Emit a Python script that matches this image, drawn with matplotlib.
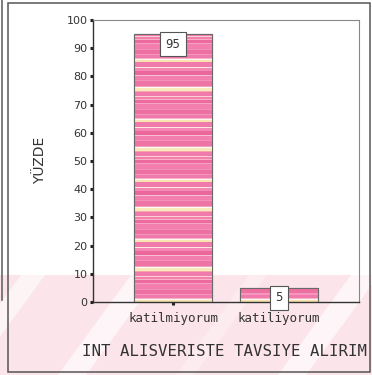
import numpy as np
import matplotlib
matplotlib.use("Agg")
import matplotlib.pyplot as plt
from matplotlib.patches import Rectangle, Polygon
from matplotlib.colors import to_rgb

categories = ["katilmiyorum", "katiliyorum"]
values = [95, 5]
value_labels = ["95", "5"]
y_ticks = [0, 10, 20, 30, 40, 50, 60, 70, 80, 90, 100]
y_label = "YÜZDE"
x_label = "INT ALISVERISTE TAVSIYE ALIRIM"

W, H = 372, 375
fig = plt.figure(figsize=(W / 100, H / 100), dpi=100)
fig.patch.set_facecolor("white")

def fx(px):
    return px / W

def fy(py):
    return 1 - py / H

# pale pink band with soft diagonal light streaks across the lower part of the page
band_top = 275
fig.patches.append(Rectangle((0, 0), 1, fy(band_top), transform=fig.transFigure,
                             facecolor="#fbe4ea", edgecolor="none", zorder=0))
slope = 0.73
for x0, w, a in [(-40, 24, 0.6), (72, 28, 0.65), (185, 18, 0.3), (292, 28, 0.65)]:
    dx = slope * (H - band_top)
    pts = [(fx(x0 - w / 2), fy(H)), (fx(x0 + w / 2), fy(H)),
           (fx(x0 + w / 2 + dx), fy(band_top)), (fx(x0 - w / 2 + dx), fy(band_top))]
    fig.patches.append(Polygon(pts, closed=True, transform=fig.transFigure,
                               facecolor="white", alpha=a, edgecolor="none", zorder=0))

# page frame
fig.patches.append(Rectangle((fx(8), fy(372)), fx(370) - fx(8), fy(3) - fy(372),
                             transform=fig.transFigure, facecolor="none",
                             edgecolor="#555555", linewidth=1.1, zorder=1))
fig.lines.append(plt.Line2D([fx(1.5), fx(1.5)], [fy(0), fy(300)], transform=fig.transFigure,
                            color="#666666", linewidth=1.2, zorder=1))

ax = fig.add_axes([fx(93), fy(302), fx(359) - fx(93), fy(20) - fy(302)])
ax.set_facecolor("none")
ax.set_zorder(2)

x = np.arange(len(categories))
bars = ax.bar(x, values, width=0.736, color="#f27fae", edgecolor="#6a6a6a",
              linewidth=0.8, zorder=2)

# horizontal stripe texture filling each bar (listed bottom to top, one entry per pixel row)
band_a = (["#f7e4b0"] * 2 + ["#fff6f0"] * 1 + ["#f7b4c8"] * 1 + ["#f07aac"] * 3 +
          ["#f597bd"] * 1 + ["#ee6fa2"] * 4 + ["#f28db6"] * 1 + ["#f27fae"] * 5 +
          ["#f6a3c3"] * 1 + ["#ec6a9e"] * 3 + ["#f7b0c4"] * 1 + ["#f27fae"] * 2 +
          ["#fbd0d0"] * 1 + ["#f07aac"] * 4)
band_b = (["#f6a8a8"] * 1 + ["#f8e8bc"] * 3 + ["#fffaf4"] * 1 + ["#f3a0bf"] * 1 +
          ["#ef74a6"] * 5 + ["#f590b9"] * 1 + ["#f27fae"] * 4 + ["#f8c0d4"] * 1 +
          ["#eb679b"] * 4 + ["#f389b4"] * 3 + ["#fde8e0"] * 1 + ["#f07aac"] * 5)
cycle = band_a + band_b
n_rows = 282
rows = [to_rgb(cycle[i % len(cycle)]) for i in range(n_rows)]
tex = np.array(rows)[::-1].reshape(n_rows, 1, 3)
for b in bars:
    im = ax.imshow(tex, extent=(b.get_x(), b.get_x() + b.get_width(), 0, 100),
                   aspect="auto", interpolation="nearest", zorder=2.5)
    im.set_clip_path(b)
    edge = Rectangle((b.get_x(), 0), b.get_width(), b.get_height(), facecolor="none",
                     edgecolor="#6a6a6a", linewidth=0.8, zorder=3)
    ax.add_patch(edge)

for xi, v, lab in zip(x, values, value_labels):
    ax.annotate(lab, (xi, v), xytext=(0, -7.2), textcoords="offset points",
                ha="center", va="center", fontsize=8.5, color="#333333", zorder=4,
                family="DejaVu Sans",
                bbox=dict(boxstyle="square,pad=0.45", facecolor="white",
                          edgecolor="#555555", linewidth=0.8))

ax.set_xlim(-0.755, 1.755)
ax.set_ylim(0, 100)
ax.set_yticks(y_ticks)
ax.set_yticklabels([str(t) for t in y_ticks], fontsize=8, color="#333333")
ax.set_xticks(x)
ax.set_xticklabels(categories, family="DejaVu Sans Mono", fontsize=9, color="#333333")
ax.tick_params(axis="y", direction="out", length=2.5, width=2.2, color="#222222", pad=1.5)
ax.tick_params(axis="x", direction="out", length=2.5, width=2.2, color="#222222", pad=4.5)
ax.get_xaxis().get_major_ticks()[1].tick1line.set_visible(False)

for side in ["left", "bottom"]:
    ax.spines[side].set_color("#333333")
    ax.spines[side].set_linewidth(1.0)
for side in ["top", "right"]:
    ax.spines[side].set_color("#888888")
    ax.spines[side].set_linewidth(0.8)

fig.text(fx(40), fy(160), y_label, rotation=90, ha="center", va="center",
         fontsize=10, color="#333333", family="DejaVu Sans")
fig.text(fx(225), fy(352), x_label, ha="center", va="center",
         fontsize=11.3, color="#333333", family="DejaVu Sans Mono")

fig.savefig("out.png", dpi=100)
